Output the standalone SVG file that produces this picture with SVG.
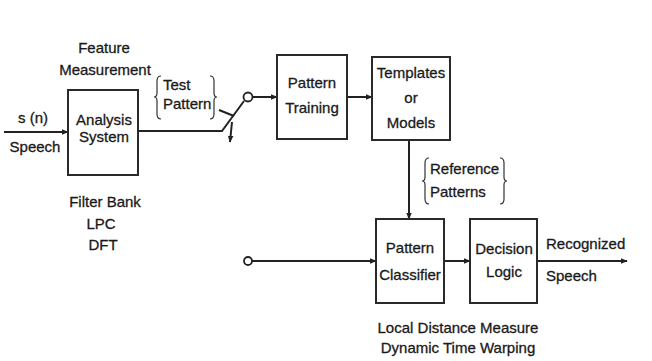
<svg xmlns="http://www.w3.org/2000/svg" width="652" height="361" viewBox="0 0 652 361">
<style>
.box{fill:#fff;stroke:#2a2a2a;stroke-width:2}
.ln{fill:none;stroke:#222;stroke-width:2}
.br{fill:none;stroke:#333;stroke-width:1.2}
text{font-family:"Liberation Sans",Arial,sans-serif;font-size:15px;fill:#1a1a1a;stroke:#1a1a1a;stroke-width:0.3}
.c{text-anchor:middle}
</style>
<defs>
<marker id="ah" viewBox="0 0 10 10" refX="9" refY="5" markerWidth="7" markerHeight="7" markerUnits="userSpaceOnUse" orient="auto"><path d="M0,1 L10,5 L0,9 z" fill="#222"/></marker>
</defs>
<rect width="652" height="361" fill="#fff"/>
<g id="connectors">
<line class="ln" x1="4" y1="132" x2="68" y2="132" marker-end="url(#ah)"/>
<polyline class="ln" points="138,131 222,131 244,101"/>
<line class="ln" x1="219" y1="110" x2="234" y2="116" stroke-width="1.5"/>
<line class="ln" x1="232" y1="122" x2="230" y2="142" stroke-width="1.5" marker-end="url(#ah)"/>
<circle cx="248" cy="97" r="4.5" fill="#fff" stroke="#222" stroke-width="1.8"/>
<line class="ln" x1="253" y1="97" x2="277" y2="97" marker-end="url(#ah)"/>
<line class="ln" x1="347" y1="97" x2="372" y2="97" marker-end="url(#ah)"/>
<line class="ln" x1="409" y1="140" x2="409" y2="219" marker-end="url(#ah)"/>
<circle cx="248" cy="261" r="4" fill="#fff" stroke="#222" stroke-width="1.8"/>
<line class="ln" x1="252" y1="261" x2="376" y2="261" marker-end="url(#ah)"/>
<line class="ln" x1="444" y1="261" x2="470" y2="261" marker-end="url(#ah)"/>
<line class="ln" x1="537" y1="261" x2="627" y2="261" marker-end="url(#ah)"/>
</g>
<g id="analysis">
<rect class="box" x="68" y="90" width="70" height="85"/>
<text class="c" x="104" y="125">Analysis</text>
<text class="c" x="104" y="142">System</text>
</g>
<g id="training">
<rect class="box" x="277" y="55" width="70" height="84"/>
<text class="c" x="312" y="88">Pattern</text>
<text class="c" x="312" y="113">Training</text>
</g>
<g id="templates">
<rect class="box" x="372" y="57" width="78" height="83"/>
<text class="c" x="411" y="78">Templates</text>
<text class="c" x="411" y="103">or</text>
<text class="c" x="411" y="128">Models</text>
</g>
<g id="classifier">
<rect class="box" x="376" y="219" width="68" height="84"/>
<text class="c" x="410" y="253">Pattern</text>
<text class="c" x="410" y="280">Classifier</text>
</g>
<g id="decision">
<rect class="box" x="470" y="219" width="67" height="84"/>
<text class="c" x="504" y="254">Decision</text>
<text class="c" x="504" y="277">Logic</text>
</g>
<g id="labels">
<text class="c" x="104" y="53">Feature</text>
<text class="c" x="105" y="75">Measurement</text>
<text class="c" x="33" y="123">s (n)</text>
<text class="c" x="35" y="152">Speech</text>
<text class="c" x="105" y="207">Filter Bank</text>
<text class="c" x="101" y="229">LPC</text>
<text class="c" x="103" y="250">DFT</text>
<path class="br" d="M161,76 Q157,76 157,81 L157,93 Q157,97 154,97 Q157,97 157,101 L157,114 Q157,119 161,119"/>
<path class="br" d="M210,76 Q214,76 214,81 L214,93 Q214,97 217,97 Q214,97 214,101 L214,114 Q214,119 210,119"/>
<text x="163" y="90">Test</text>
<text x="163" y="109">Pattern</text>
<path class="br" d="M429,158 Q425,158 425,163 L425,177 Q425,181 422,181 Q425,181 425,185 L425,199 Q425,204 429,204"/>
<path class="br" d="M500,158 Q504,158 504,163 L504,177 Q504,181 507,181 Q504,181 504,185 L504,199 Q504,204 500,204"/>
<text x="430" y="174">Reference</text>
<text x="430" y="197">Patterns</text>
<text x="546" y="249">Recognized</text>
<text x="546" y="281">Speech</text>
<text class="c" x="458" y="333">Local Distance Measure</text>
<text class="c" x="458" y="353">Dynamic Time Warping</text>
</g>
</svg>
